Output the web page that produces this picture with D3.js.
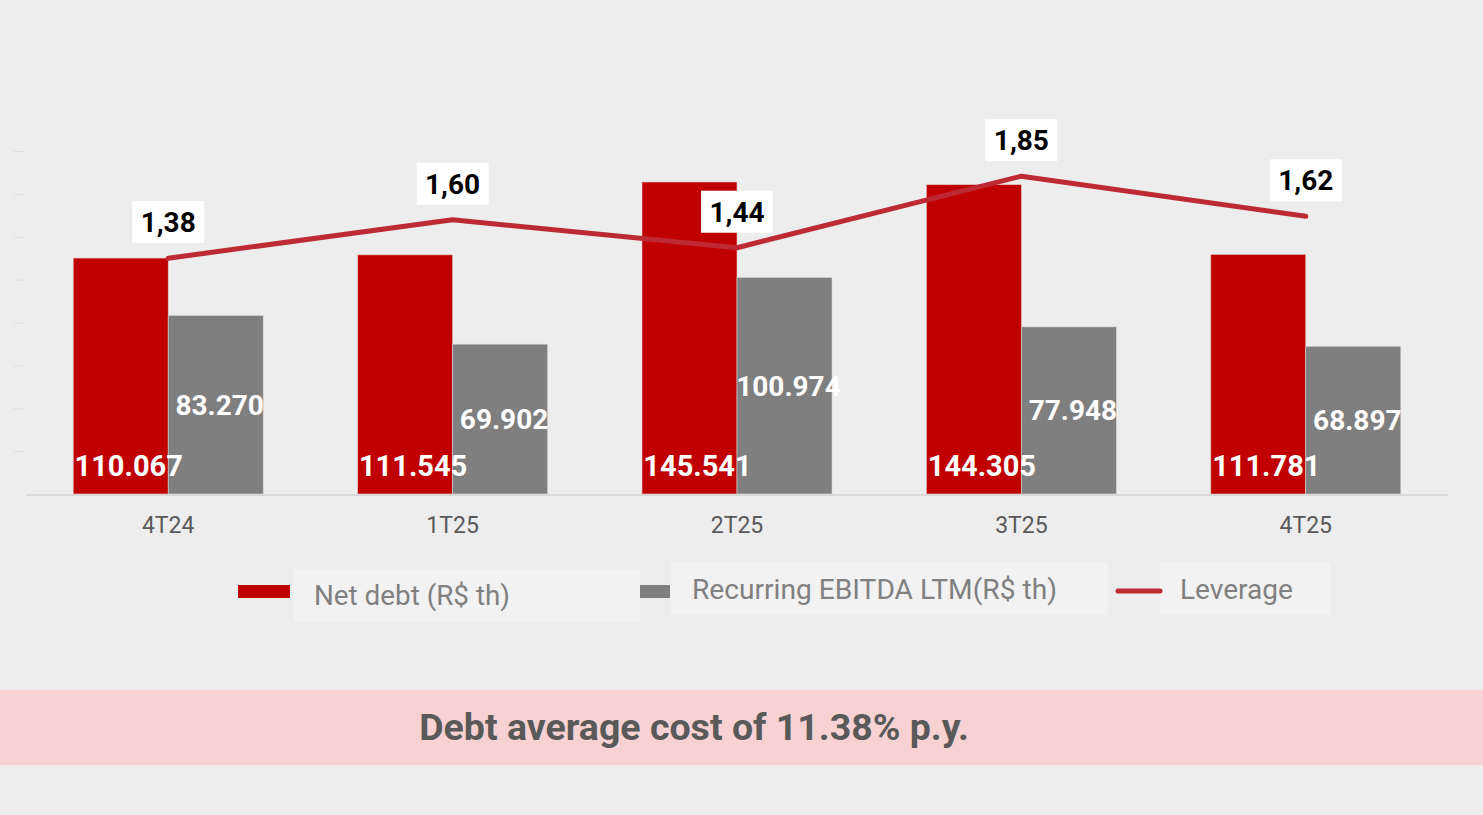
<!DOCTYPE html>
<html lang="en">
<head>
<meta charset="utf-8">
<title>Net debt, EBITDA and leverage</title>
<script src="https://cdn.jsdelivr.net/npm/d3@7"></script>
<style>
  body { margin: 0; background: #ededed; }
  svg { display: block; font-family: Roboto, "Noto Sans", sans-serif; }
</style>
</head>
<body>
<script>
// data
var quarters = ["4T24", "1T25", "2T25", "3T25", "4T25"];
var netDebt = [110067, 111545, 145541, 144305, 111781];
var ebitda = [83270, 69902, 100974, 77948, 68897];
var leverage = [1.38, 1.60, 1.44, 1.85, 1.62];
var seriesNames = ["Net debt (R$ th)", "Recurring EBITDA LTM(R$ th)", "Leverage"];
var footnote = "Debt average cost of 11.38% p.y.";

var W = 1483, H = 815;
var red = "#c00000", grey = "#7f7f7f", lineRed = "#be2a34";

var fmtK = function(v) { return d3.format(",")(v).replace(/,/g, "."); };
var fmtLev = function(v) { return v.toFixed(2).replace(".", ","); };

var svg = d3.select("body").append("svg")
    .attr("width", W)
    .attr("height", H);

svg.append("rect").attr("width", W).attr("height", H).attr("fill", "#ededed");

// scales
var x = d3.scaleBand().domain(quarters).range([26, 1448]).padding(0);
var x1 = d3.scaleBand().domain(["debt", "ebitda"])
    .range([x.bandwidth() / 2 - 95, x.bandwidth() / 2 + 95]).padding(0);
var y = d3.scaleLinear().domain([0, 160000]).range([494, 151]);
var yLev = d3.scaleLinear().domain([0, 2]).range([499, 150]);

// faint left ticks
var yAxis = svg.append("g")
    .attr("transform", "translate(23,0)")
    .call(d3.axisLeft(y).tickValues(d3.range(20000, 160001, 20000)).tickSize(9).tickFormat(""));
yAxis.select(".domain").remove();
yAxis.selectAll("line").attr("stroke", "#dcdcdc");

// bars
var groups = svg.selectAll("g.q")
    .data(quarters)
    .enter().append("g")
    .attr("class", "q")
    .attr("transform", function(d) { return "translate(" + x(d) + ",0)"; });

groups.append("rect")
    .attr("x", x1("debt"))
    .attr("width", x1.bandwidth())
    .attr("y", function(d, i) { return y(netDebt[i]); })
    .attr("height", function(d, i) { return y(0) - y(netDebt[i]); })
    .attr("fill", red)
    .attr("stroke", "#e3c9c9").attr("stroke-width", 0.6);

groups.append("rect")
    .attr("x", x1("ebitda"))
    .attr("width", x1.bandwidth())
    .attr("y", function(d, i) { return y(ebitda[i]); })
    .attr("height", function(d, i) { return y(0) - y(ebitda[i]); })
    .attr("fill", grey)
    .attr("stroke", "#d6d6d6").attr("stroke-width", 0.6);

// baseline
svg.append("line")
    .attr("x1", x.range()[0]).attr("x2", x.range()[1])
    .attr("y1", y(0) + 1).attr("y2", y(0) + 1)
    .attr("stroke", "#d9d9d9").attr("stroke-width", 2);

// category labels
svg.append("g").selectAll("text")
    .data(quarters)
    .enter().append("text")
    .attr("x", function(d) { return x(d) + x.bandwidth() / 2; })
    .attr("y", 533)
    .attr("text-anchor", "middle")
    .attr("font-size", "23px")
    .attr("fill", "#595959")
    .text(function(d) { return d; });

// leverage line
var line = d3.line()
    .x(function(d, i) { return x(quarters[i]) + x.bandwidth() / 2; })
    .y(function(d) { return yLev(d); });

svg.append("path")
    .datum(leverage)
    .attr("d", line)
    .attr("fill", "none")
    .attr("stroke", lineRed)
    .attr("stroke-width", 5)
    .attr("stroke-linecap", "round")
    .attr("stroke-linejoin", "round");

// bar value labels
groups.append("text")
    .attr("x", function() { return x1("debt") + x1.bandwidth() / 2 + 8; })
    .attr("y", 476)
    .attr("text-anchor", "middle")
    .attr("font-size", "29px").attr("font-weight", "bold")
    .attr("fill", "#fff")
    .text(function(d, i) { return fmtK(netDebt[i]); });

groups.append("text")
    .attr("x", function() { return x1("ebitda") + x1.bandwidth() / 2 + 4; })
    .attr("y", function(d, i) { return (y(ebitda[i]) + y(0)) / 2 + 10; })
    .attr("text-anchor", "middle")
    .attr("font-size", "28px").attr("font-weight", "bold")
    .attr("fill", "#fff")
    .text(function(d, i) { return fmtK(ebitda[i]); });

// leverage labels
var lev = svg.append("g").selectAll("g")
    .data(leverage)
    .enter().append("g")
    .attr("transform", function(d, i) {
        return "translate(" + (x(quarters[i]) + x.bandwidth() / 2) + "," + yLev(d) + ")";
    });
lev.append("rect")
    .attr("x", -36).attr("y", -57)
    .attr("width", 72).attr("height", 42)
    .attr("fill", "#fff");
lev.append("text")
    .attr("y", -26)
    .attr("text-anchor", "middle")
    .attr("font-size", "28px").attr("font-weight", "bold")
    .attr("fill", "#000")
    .text(function(d) { return fmtLev(d); });

// legend
var legend = svg.append("g");
legend.append("rect").attr("x", 293).attr("y", 569).attr("width", 347).attr("height", 53).attr("fill", "#f2f2f2");
legend.append("rect").attr("x", 671).attr("y", 562).attr("width", 437).attr("height", 53).attr("fill", "#f2f2f2");
legend.append("rect").attr("x", 1160).attr("y", 562).attr("width", 171).attr("height", 53).attr("fill", "#f2f2f2");

legend.append("rect").attr("x", 238).attr("y", 585).attr("width", 52).attr("height", 13).attr("fill", red);
legend.append("rect").attr("x", 640).attr("y", 585).attr("width", 30).attr("height", 13).attr("fill", grey);
legend.append("line").attr("x1", 1118).attr("x2", 1160).attr("y1", 591).attr("y2", 591)
    .attr("stroke", lineRed).attr("stroke-width", 5).attr("stroke-linecap", "round");

var legendText = [
    { x: 314, y: 605, w: 196 },
    { x: 692, y: 599, w: 365 },
    { x: 1180, y: 599, w: 113 }
];
legend.selectAll("text.lg")
    .data(seriesNames)
    .enter().append("text")
    .attr("class", "lg")
    .attr("x", function(d, i) { return legendText[i].x; })
    .attr("y", function(d, i) { return legendText[i].y; })
    .attr("textLength", function(d, i) { return legendText[i].w; })
    .attr("lengthAdjust", "spacingAndGlyphs")
    .attr("font-size", "27px")
    .attr("fill", "#808080")
    .text(function(d) { return d; });

// footnote banner
svg.append("rect")
    .attr("x", 0).attr("y", 690)
    .attr("width", W).attr("height", 75)
    .attr("fill", "#f8d2d3");
svg.append("text")
    .attr("x", 694).attr("y", 740)
    .attr("text-anchor", "middle")
    .attr("font-size", "37.5px").attr("font-weight", "bold")
    .attr("fill", "#595959")
    .text(footnote);
</script>
</body>
</html>
